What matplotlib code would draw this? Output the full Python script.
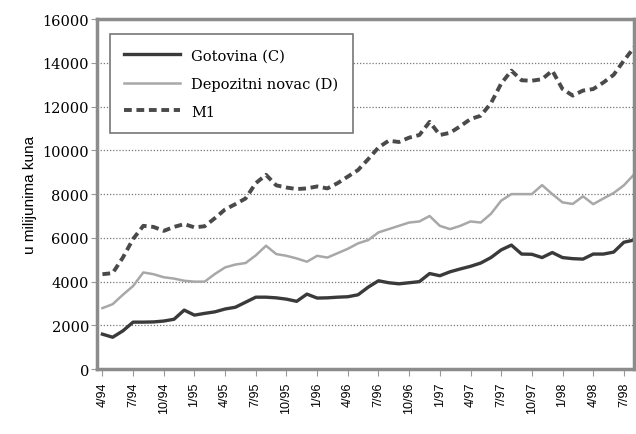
import matplotlib.pyplot as plt

# monthly data, 4/94 .. 8/98 (53 months)
gotovina = [1600, 1460, 1750, 2150, 2150, 2160, 2200, 2280, 2700, 2470,
            2550, 2620, 2750, 2830, 3060, 3290, 3290, 3260, 3200, 3100,
            3430, 3250, 3260, 3290, 3310, 3400, 3750, 4040, 3950, 3900,
            3950, 4000, 4370, 4270, 4450, 4580, 4700, 4850, 5100, 5450,
            5670, 5260, 5250, 5100, 5330, 5100, 5050, 5030, 5260, 5260,
            5350, 5800, 5900]
depozitni = [2790, 2970, 3400, 3800, 4420, 4340, 4200, 4140, 4040, 4000,
             4000, 4350, 4650, 4780, 4850, 5200, 5640, 5260, 5180, 5060,
             4910, 5180, 5100, 5300, 5500, 5750, 5900, 6250, 6400, 6550,
             6700, 6750, 7000, 6550, 6400, 6550, 6750, 6700, 7100, 7700,
             8000, 8000, 8000, 8410, 8000, 7620, 7550, 7900, 7540, 7800,
             8050, 8400, 8900]
m1 = [4340, 4390, 5100, 5950, 6550, 6500, 6320, 6500, 6630, 6480,
      6530, 6900, 7300, 7540, 7800, 8500, 8880, 8400, 8300, 8230,
      8260, 8350, 8260, 8500, 8800, 9100, 9600, 10130, 10440, 10380,
      10580, 10700, 11300, 10700, 10800, 11100, 11430, 11580, 12150, 13050,
      13640, 13200, 13180, 13250, 13640, 12800, 12500, 12730, 12800, 13100,
      13450, 14100, 14700]

tick_labels = ['4/94', '7/94', '10/94', '1/95', '4/95', '7/95', '10/95',
               '1/96', '4/96', '7/96', '10/96', '1/97', '4/97', '7/97',
               '10/97', '1/98', '4/98', '7/98']

serif = ['DejaVu Serif']
sans = ['Liberation Sans Narrow', 'Liberation Sans', 'DejaVu Sans']

fig = plt.figure(figsize=(6.36, 4.35), dpi=100)
ax = fig.add_axes([0.153, 0.149, 0.844, 0.805])

x = list(range(len(m1)))
ax.plot(x, gotovina, color='#3a3a3a', lw=2.4, label='Gotovina (C)')
ax.plot(x, depozitni, color='#a8a8a8', lw=1.8, label='Depozitni novac (D)')
ax.plot(x, m1, color='#4a4a4a', lw=2.8, linestyle=(0, (2, 1.2)), label='M1')

ax.set_xlim(-0.5, 52)
ax.set_ylim(0, 16000)
ax.set_yticks(range(0, 16001, 2000))
ax.set_yticklabels([str(v) for v in range(0, 16001, 2000)], family=serif, fontsize=10.5)
ax.set_xticks(range(0, 52, 3))
ax.set_xticklabels(tick_labels, rotation=90, family=sans, fontsize=9)

ax.yaxis.grid(True, color='#777777', linestyle=(0, (1, 1.5)), lw=0.9)
ax.set_axisbelow(True)

for s in ax.spines.values():
    s.set_color('#8c8c8c')
    s.set_linewidth(2.5)
ax.tick_params(axis='y', length=4, color='#999999', pad=2)
ax.tick_params(axis='x', length=5, color='#999999', pad=4)

ax.set_ylabel('u milijunima kuna', family=sans, fontsize=11, labelpad=4)

leg = ax.legend(loc='upper left', bbox_to_anchor=(0.015, 0.97), prop={'family': serif, 'size': 10.5},
                fancybox=False, edgecolor='#777777', framealpha=1, handlelength=3.8,
                borderpad=1.0, labelspacing=0.95, borderaxespad=0.3)
leg.get_frame().set_linewidth(1.2)

plt.savefig('out.png', dpi=100)
